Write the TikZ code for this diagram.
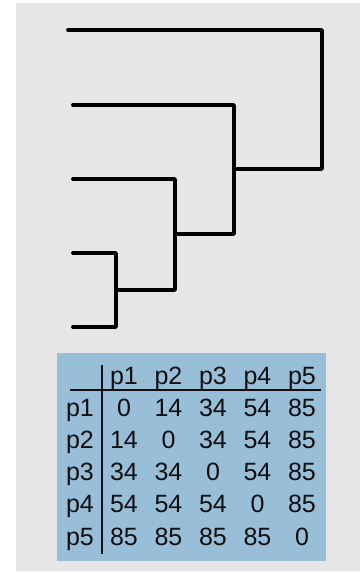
\documentclass[tikz,border=0pt]{standalone}
\usepackage{fontspec}
\setmainfont{Liberation Sans}
\definecolor{bggray}{RGB}{230,230,230}
\definecolor{tblue}{RGB}{152,190,216}
\definecolor{ink}{RGB}{15,15,15}
\begin{document}
\begin{tikzpicture}[x=1pt,y=-1pt,
  branch/.style={line width=3.8pt,line cap=round,line join=round,black},
  rule/.style={line width=2.6pt,ink},
  cell/.style={anchor=base,inner sep=0pt,font=\fontsize{25}{29}\selectfont,text=ink}]
\useasboundingbox (0,0) rectangle (360,573);
\fill[bggray] (16,3) rectangle (360,571);
% dendrogram
\coordinate (L1) at (68,30);
\coordinate (L2) at (73,105);
\coordinate (L3) at (73,179);
\coordinate (L4) at (73,253);
\coordinate (L5) at (73,327);
\coordinate (a4) at (116,253);
\coordinate (a5) at (116,327);
\coordinate (m45) at (116,290);
\coordinate (b3) at (175,290);
\coordinate (a3) at (175,179);
\coordinate (m3) at (175,234);
\coordinate (b2) at (234,234);
\coordinate (a2) at (234,105);
\coordinate (m2) at (234,169);
\coordinate (b1) at (322,169);
\coordinate (a1) at (322,30);
\draw[branch] (L4) -- (a4) -- (a5) -- (L5);
\draw[branch] (m45) -- (b3) -- (a3) -- (L3);
\draw[branch] (m3) -- (b2) -- (a2) -- (L2);
\draw[branch] (m2) -- (b1) -- (a1) -- (L1);
% table
\fill[tblue] (57,353) rectangle (326,561);
\coordinate (hl) at (70,390);
\coordinate (hr) at (321,390);
\coordinate (vt) at (102,365);
\coordinate (vb) at (102,554);
\draw[rule] (hl) -- (hr);
\draw[rule] (vt) -- (vb);
\foreach \t [count=\i] in {p1,p2,p3,p4,p5}{
  \node[cell] (h\i) at ({124+44.5*(\i-1)},384) {\t};
}
\foreach \t [count=\j] in {p1,p2,p3,p4,p5}{
  \node[cell] (r\j) at (80,{416+32.25*(\j-1)}) {\t};
}
\foreach \row [count=\j] in {{0,14,34,54,85},{14,0,34,54,85},{34,34,0,54,85},{54,54,54,0,85},{85,85,85,85,0}}{
  \foreach \v [count=\i] in \row {
    \node[cell] (c\j\i) at ({124+44.5*(\i-1)},{416+32.25*(\j-1)}) {\v};
  }
}
\end{tikzpicture}
\end{document}
